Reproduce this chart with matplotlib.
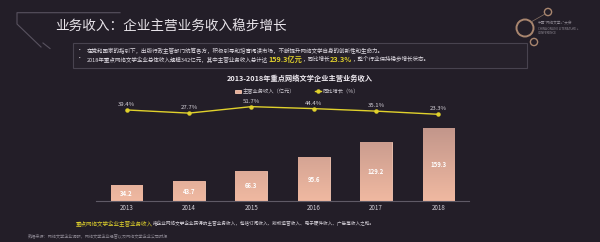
import numpy as np
import matplotlib
matplotlib.use('Agg')
import matplotlib.pyplot as plt
from matplotlib.patches import Rectangle, Circle
from matplotlib.colors import LinearSegmentedColormap

plt.rcParams['font.family'] = ['Noto Sans CJK SC', 'DejaVu Sans']

# data
years = ['2013', '2014', '2015', '2016', '2017', '2018']
revenue = [34.2, 43.7, 66.3, 95.6, 129.2, 159.3]      # 主营业务收入（亿元）
growth = [39.4, 27.7, 51.7, 44.4, 35.1, 23.3]         # 同比增长（%）

title = '业务收入：企业主营业务收入稳步增长'
chart_title = '2013-2018年重点网络文学企业主营业务收入'
bullet1 = '在党和国家的指引下，出版行政主管部门统筹各方，积极引导和培育阅读市场，不断提升网络文学自身的创新性和生命力。'
bullet2 = [('2018年重点网络文学企业总体收入规模342亿元，其中主营业务收入总计达', False),
           ('159.3亿元', True), ('，同比增长', False), ('23.3%', True),
           ('，整个行业保持稳步增长状态。', False)]
note_key = '重点网络文学企业主营业务收入'
note_text = '指企业网络文学企业获得的主营业务收入，包括订阅收入、版权运营收入、电子硬件收入、广告等收入之和。'
source = '数据来源：网络文学企业调研，网络文学企业经营以及网络文学企业公司财报'

BG = '#231e28'
YEL = '#e0d12c'

fig = plt.figure(figsize=(6, 2.42), dpi=100, facecolor=BG)
renderer = fig.canvas.get_renderer()

# background axes in pixel coords (0..600 x 0..242, y downwards)
bg = fig.add_axes([0, 0, 1, 1])
bg.set_xlim(0, 600)
bg.set_ylim(242, 0)
bg.axis('off')


def chain(x, y, pieces):
    # draw text pieces one after another on the same line
    for txt, color, size, weight in pieces:
        t = bg.text(x, y, txt, color=color, fontsize=size, fontweight=weight, va='center')
        x += t.get_window_extent(renderer).width


# decoration
bg.plot([120, 17, 17, 41], [12.7, 12.7, 24, 47], color='#58525f', lw=0.8)
bg.plot([43, 50], [43, 48.5], color='#58525f', lw=0.8)
bg.text(55, 27, title, fontsize=9.8, color='#e8e4ea', va='center')

# bullet box
bg.add_patch(Rectangle((73, 43), 454, 25, fc='#26212b', ec='#48434f', lw=0.8))
bg.text(77, 51, '•', color='#e0dce4', fontsize=4, va='center')
bg.text(77, 59.5, '•', color='#e0dce4', fontsize=4, va='center')
chain(87, 51, [(bullet1, '#e0dce4', 4, 'normal')])
chain(87, 59.5, [(t, YEL if hl else '#e0dce4', 5.2 if hl else 4, 'bold' if hl else 'normal')
                 for t, hl in bullet2])

# logo
for (cx, cy, r, lw) in [(525, 28, 8.5, 1.4), (548, 12, 3.6, 1.0), (534, 42, 3.6, 1.0)]:
    bg.add_patch(Circle((cx, cy), r, fill=False, ec='#a9866f', lw=lw))
bg.plot([531, 545], [22, 14], color='#8a7466', lw=0.5)
bg.text(538, 23.5, '中国"网络文学+"大会', fontsize=2.6, color='#8f8a94', va='center')
bg.text(538, 28.5, 'CHINA ONLINE LITERATURE +', fontsize=2.2, color='#8f8a94', va='center')
bg.text(538, 32.5, 'CONFERENCE', fontsize=2.2, color='#8f8a94', va='center')

# chart title
bg.text(300, 78, chart_title, fontsize=5.2, color='#f0ecf2', fontweight='bold',
        ha='center', va='center')

# bar chart
ax = fig.add_axes([96 / 600, 41 / 242, 373 / 600, 101 / 242])
ax.set_facecolor('none')
x = np.arange(len(years))
bars = ax.bar(x, revenue, width=0.51, color='#e6ae98', edgecolor='#f6c9b4', lw=0.6,
              label='主营业务收入（亿元）', zorder=2)
cmap = LinearSegmentedColormap.from_list('peach', ['#f0b9a1', '#c1958a'])
grad = np.linspace(0, 1, 256).reshape(-1, 1)
for b in bars:
    im = ax.imshow(grad, extent=[b.get_x(), b.get_x() + b.get_width(), 0, 165],
                   origin='lower', aspect='auto', cmap=cmap, zorder=2.5)
    im.set_clip_path(b)
for xi, v in zip(x, revenue):
    ax.text(xi, v / 2, f'{v}', ha='center', va='center', color='white',
            fontsize=4.3, fontweight='bold', zorder=3)
ax.set_xlim(-0.49, 5.49)
ax.set_ylim(0, 221.5)
ax.set_xticks(x)
ax.set_xticklabels(years)
ax.tick_params(axis='x', length=0, pad=2.5, labelsize=4.5, labelcolor='#d2ced6')
ax.set_yticks([])
for s in ['top', 'left', 'right']:
    ax.spines[s].set_visible(False)
ax.spines['bottom'].set_color('#5f5a66')
ax.spines['bottom'].set_linewidth(0.8)

# growth line
ax2 = ax.twinx()
ax2.set_facecolor('none')
line, = ax2.plot(x, growth, color=YEL, lw=1.0, marker='o', ms=2.2,
                 label='同比增长（%）', zorder=4)
for xi, v in zip(x, growth):
    ax2.annotate(f'{v}%', (xi, v), xytext=(0, 2.2), textcoords='offset points',
                 ha='center', va='bottom', color='#d8d4dc', fontsize=4.3)
ax2.set_ylim(-297.8, 76.3)
ax2.set_yticks([])
for s in ax2.spines.values():
    s.set_visible(False)

fig.legend([bars, line], ['主营业务收入（亿元）', '同比增长（%）'], ncol=2,
           loc='center', bbox_to_anchor=(297 / 600, 1 - 91.4 / 242), frameon=False,
           fontsize=3.8, labelcolor='#cfcbd3', handlelength=1.2, handletextpad=0.4,
           columnspacing=3.6, handleheight=0.6)

# footnotes
chain(76, 223.7, [(note_key, YEL, 4, 'normal'), (note_text, '#d8d4dc', 3.3, 'normal')])
bg.text(28, 235.6, source, fontsize=3, color='#8a8590', va='center')

fig.savefig('out.png', dpi=100, facecolor=BG)
